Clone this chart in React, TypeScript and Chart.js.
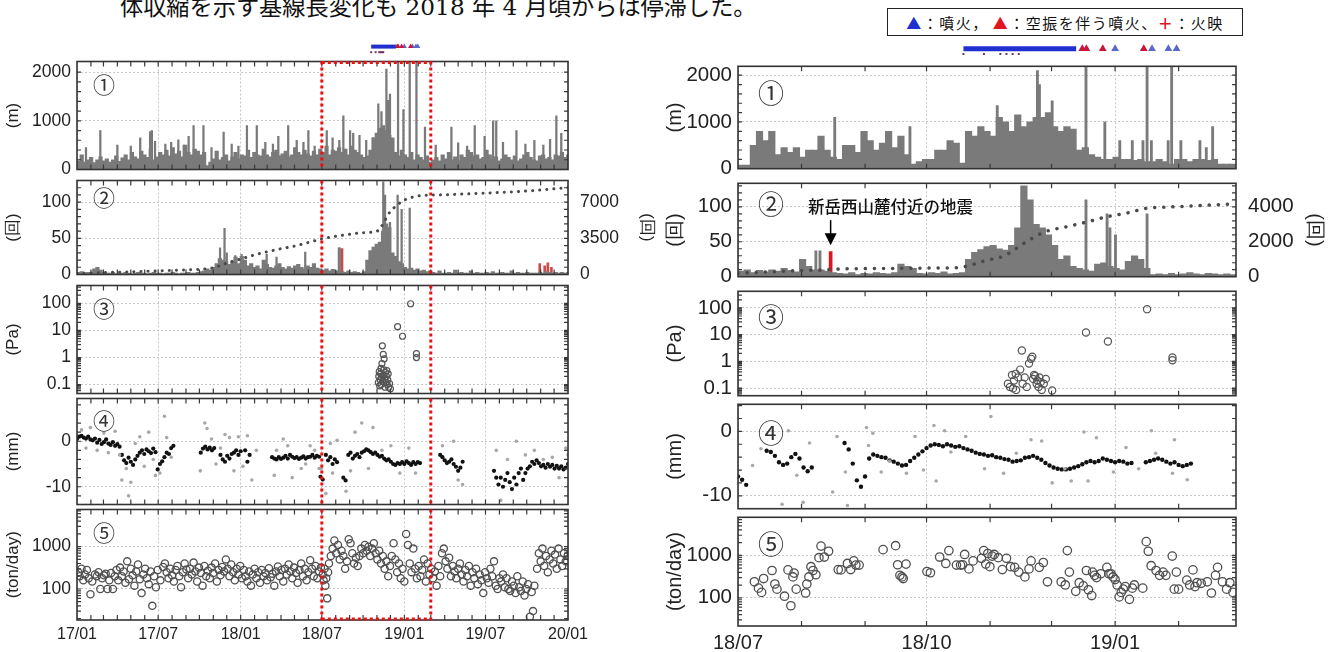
import React, { useEffect, useMemo, useRef } from 'react';
import { Chart, registerables } from 'chart.js';

Chart.register(...registerables);
Chart.defaults.font.family = '"Liberation Sans", Arial, sans-serif';
Chart.defaults.color = '#222';

// ================= DATA =================
const leftStart = '2017-01-01';
const leftEnd = '2020-01-01';
const rightStart = '2018-07-01';
const rightEnd = '2019-03-01';
const xLabelsLeft = ['17/01', '17/07', '18/01', '18/07', '19/01', '19/07', '20/01'];
const xLabelsRight = ['18/07', '18/10', '19/01'];

// y tick values
const ticksHeight = [0, 1000, 2000];
const ticksQuake = [0, 50, 100];
const ticksCumLeft = [0, 3500, 7000];
const ticksCumRight = [0, 2000, 4000];
const ticksPa = [0.1, 1, 10, 100];
const ticksMm = [-10, 0];
const ticksSo2 = [100, 1000];

// ① plume height (m). Left: weekly bins from 2017-01-01; spikes [day, m]
const plumeWeeklyLeft = [
  180, 300, 150, 200, 250, 140, 200, 260, 180, 220,
  150, 200, 280, 170, 240, 300, 200, 350, 260, 220,
  380, 300, 250, 420, 200, 260, 350, 300, 400, 280,
  450, 320, 380, 260, 500, 350, 300, 420, 380, 300,
  350, 80, 150, 220, 380, 200, 250, 300, 180, 260,
  350, 220, 300, 280, 400, 250, 350, 300, 280, 420,
  300, 260, 350, 400, 280, 320, 380, 260, 300, 450,
  350, 300, 400, 320, 280, 380, 300, 420, 350, 480,
  300, 400, 380, 450, 350, 420, 300, 480, 400, 350,
  300, 250, 280, 400, 650, 750, 850, 900, 800, 700,
  650, 350, 280, 400, 300, 250, 350, 200, 300, 250,
  200, 280, 150, 200, 250, 180, 300, 220, 350, 200,
  260, 180, 300, 250, 400, 350, 280, 300, 220, 250,
  400, 300, 200, 260, 180, 220, 300, 250, 200, 280,
  180, 220, 300, 350, 250, 200, 180, 280, 300, 220,
  250, 200, 300, 280, 350, 250, 300,
];
const plumeSpikesLeft = [
  [20, 450], [52, 800], [90, 500], [120, 480], [141, 650], [163, 780], [167, 800], [174, 580],
  [197, 520], [210, 560], [226, 610], [238, 500], [249, 680], [260, 900], [282, 900], [300, 450],
  [327, 770], [345, 520], [360, 480], [379, 900], [401, 900], [420, 560], [437, 520], [449, 680],
  [471, 900], [490, 600], [505, 560], [516, 800], [530, 480], [557, 800], [570, 650], [585, 600],
  [594, 1100], [609, 800], [616, 740], [630, 700], [645, 600], [660, 650], [672, 1350], [679, 1190],
  [690, 2060], [694, 1420], [698, 1550], [716, 2500], [728, 1230], [742, 2500], [757, 2500],
  [776, 870], [800, 500], [835, 870], [850, 550], [870, 480], [887, 900], [909, 680], [928, 1000],
  [935, 1000], [950, 560], [980, 800], [1000, 520], [1020, 600], [1040, 500], [1055, 620],
  [1069, 1100], [1080, 740],
];
// Right: 3-day bins from 2018-07-01; spikes [day, m]
const plumeBins3dRight = [
  80, 80, 500, 800, 600, 800, 300, 450, 350, 450,
  250, 400, 400, 700, 400, 250, 200, 500, 500, 350,
  800, 600, 400, 550, 800, 450, 700, 300, 100, 150,
  200, 200, 400, 400, 600, 550, 120, 800, 700, 900,
  800, 700, 1100, 1000, 800, 1150, 900, 1000, 1100, 1100,
  1200, 900, 800, 900, 850, 400, 450, 300, 250, 200,
  200, 250, 200, 200, 180, 200, 150, 150, 200, 150,
  100, 200, 200, 150, 200, 200, 180, 200, 100, 100, 100,
];
const plumeSpikesRight = [
  [47.2, 1100], [83.9, 900], [126.5, 1350], [146.1, 2100], [147.1, 1800], [153.3, 1450],
  [169.8, 2500], [179, 1000], [186.3, 600], [192.4, 600], [197.6, 600], [199.6, 2500],
  [201.7, 600], [209.9, 600], [211.6, 2500], [216.1, 600], [225.4, 600], [228.5, 450], [231.6, 900],
];

// ② volcanic earthquakes (count/day) and cumulative count
const quakeWeeklyLeft = [
  3, 4, 2, 3, 2, 8, 10, 6,
  3, 2, 2, 3, 1, 2, 2, 3, 2, 1, 2, 3, 2, 2, 1, 2, 3, 2, 2, 1, 2, 2, 3, 2, 1, 2, 2, 3, 2, 2, 3, 4,
  5, 8, 6, 10, 15, 22, 20, 18, 14, 18, 24, 15, 25, 20, 12, 15,
  10, 12, 8, 20, 14, 10, 9, 12, 15, 10, 8, 11, 9, 12, 14, 10, 8, 12, 10, 15, 9, 8,
  6, 8, 5, 7, 5, 4, 4, 3, 5, 3, 4, 3, 2, 4,
  20, 33, 38, 42, 45, 60, 70, 65, 30, 25, 18, 15, 10, 8, 9, 6, 8, 5, 6, 4, 5,
  3, 2, 5, 2, 2, 3, 2, 6, 2, 3, 2, 2, 5, 2, 3, 2, 2, 3, 2, 4, 2, 2, 3, 2, 2, 5, 2, 3, 2, 2, 3, 2,
  2, 2, 3, 2, 4, 3, 2, 3, 2, 3, 2, 3,
];
const quakeSpikesLeft = [
  [319, 37], [329, 64], [334, 30], [353, 26], [367, 28], [423, 28], [445, 24], [509, 31],
  [584, 37], [586, 37], [683, 128], [687, 110], [698, 72], [715, 110], [724, 90], [742, 92],
];
const quakeRedLeft = [[591, 36], [1032, 15], [1043, 12], [1050, 16], [1058, 10]];
const quakeCumMonthlyLeft = [
  100, 140, 180, 220, 260, 300, 350, 400, 440, 500, 650, 1100, 1500, 1900, 2200, 2500, 2750, 3100,
  3450, 3700, 3900, 4050, 4200, 6100, 7200, 7600, 7680, 7720, 7770, 7820, 7880, 7940, 8000, 8080,
  8180, 8300, 8420,
];
const quakeBins3dRight = [
  8, 10, 6, 9, 7, 10, 8, 12, 9, 7,
  25, 15, 10, 10, 8, 6, 5, 4, 6, 3,
  5, 4, 6, 5, 4, 6, 18, 15, 12, 5,
  4, 6, 5, 7, 4, 5, 6, 25, 35, 39,
  43, 45, 40, 38, 45, 70, 130, 110, 75, 70,
  60, 45, 25, 30, 15, 12, 10, 8, 18, 20,
  15, 12, 10, 22, 30, 25, 12, 3, 4, 3,
  5, 3, 4, 6, 4, 3, 5, 4, 3, 4, 3,
];
const quakeSpikesRight = [[38, 37], [40, 37], [169.8, 110], [180.1, 90], [181.5, 70], [184.2, 60], [199.6, 90]];
const quakeRedRight = [[45.2, 36]];
const quakeCum10dRight = [
  200, 250, 300, 350, 380, 440, 460, 470, 480, 490, 500, 560, 900, 1200, 1950, 2580, 2850, 3130,
  3430, 3650, 3930, 3990, 4040, 4100, 4160,
];

// ③ infrasound amplitude (Pa) [day, Pa]
const infraLeft = [
  [672, 0.12], [673, 0.2], [674, 0.3], [675, 0.09], [676, 0.15], [677, 0.25], [678, 0.4], [678, 0.1],
  [679, 0.18], [680, 0.6], [681, 2.7], [682, 0.13], [683, 1.3], [683, 0.22], [684, 0.35], [685, 0.9],
  [686, 0.16], [687, 0.08], [688, 0.28], [689, 0.12], [690, 0.2], [691, 0.33], [692, 0.1], [693, 0.15],
  [694, 0.25], [695, 0.08], [697, 0.11], [699, 0.07], [715, 13.8], [726, 6.1], [744, 97], [757, 1.4], [757, 1.0],
];
const infraRight = [
  [131.7, 0.145], [132.7, 0.11], [133.7, 0.31], [134.2, 0.097], [134.7, 0.19], [135.7, 0.085], [135.5, 0.34],
  [136.7, 0.25], [137.7, 0.49], [138.5, 2.55], [138.9, 0.145], [139.9, 0.25], [140.9, 0.11], [142, 0.83],
  [143, 1.24], [143.6, 1.5], [144, 0.22], [144.5, 0.31], [145, 0.28], [145.7, 0.145], [146.1, 0.19],
  [146.7, 0.11], [147.1, 0.25], [147.7, 0.166], [148.2, 0.085], [149.2, 0.145], [150.2, 0.22], [153.3, 0.081],
  [169.8, 12], [180.5, 5.5], [199.6, 90], [212, 1.4], [212, 1.1],
];

// ④ GNSS baseline length change (mm): segments of regularly spaced daily solutions
const gnssStepLeft = 5;
const gnssSegmentsLeft = [
  { start: 0, mm: [0.5, 1.0, 1.2, 0.8, 0.6, 1.0, 0.4, 0.2, 0.6, -0.3, 0.3, -0.6, -0.2, 0.4, -0.5, -0.8, -0.2, -1.0, -0.6, -1.2] },
  { start: 100, mm: [-3.0, -4.2, -4.8, -3.6, -4.5, -5.2, -4.0, -3.2, -2.5] },
  { start: 145, mm: [-2.0, -2.8, -1.8, -2.2, -2.6, -1.6, -2.4] },
  { start: 180, mm: [-6.2, -5.0, -4.4, -3.5, -2.5, -2.8, -1.5, -1.0] },
  { start: 276, mm: [-2.5, -1.6, -1.2, -1.8, -1.4, -2.0, -1.5] },
  { start: 320, mm: [-3.0, -4.0, -4.5, -3.2, -3.8, -2.8] },
  { start: 350, mm: [-2.5, -2.0, -3.0, -2.2] },
  { start: 375, mm: [-2.0, -4.5, -3.0] },
  { start: 435, mm: [-3.5, -3.8, -4.0, -3.5, -3.9, -3.6, -3.2, -3.8, -3.0, -3.4, -3.7, -3.5, -3.9, -3.6, -3.3, -3.8, -3.5, -3.4, -3.0, -3.6, -3.2, -3.4] },
  { start: 543, mm: [-7.8, -8.4] },
  { start: 555, mm: [-3.0, -4.2, -3.5, -5.0, -4.0, -4.6] },
  { start: 594, mm: [-8.0, -8.6] },
  { start: 605, mm: [-3.0, -2.5, -3.8, -3.2, -2.8, -3.5, -2.5, -2.2, -1.8, -2.0, -2.4, -2.8, -2.5, -3.0, -3.4, -3.2, -3.8, -4.2, -4.0, -4.5, -5.0, -5.2, -4.8, -5.0, -4.6, -5.0, -4.4, -4.8, -5.2, -4.6, -5.0, -4.6, -4.8] },
  { start: 810, mm: [-3.0, -3.5, -4.2, -4.8, -4.5, -4.0, -5.0, -5.6, -6.5, -5.8, -4.5] },
  { start: 930, mm: [-6.5, -8.0, -9.5, -8.0, -10.0, -8.5, -7.0, -9.0, -10.5, -8.0, -9.5, -7.0, -6.0, -8.5, -7.0, -6.0, -5.5, -4.5, -5.0, -4.2, -4.8, -5.5, -5.2, -5.8, -5.0, -5.6, -5.2, -6.0, -5.4, -6.0, -5.5, -6.2, -5.8, -5.0] },
];
const gnssScatterLeft = [
  [10, 2.5], [20, -1.5], [30, 3.0], [45, -2.0], [60, 1.8], [70, -2.5], [85, 2.2], [95, -3.0], [100, -8.5],
  [110, -6.0], [115, -12.0], [120, -9.0], [130, -0.5], [140, 1.0], [150, -5.5], [160, 2.0], [170, -4.0],
  [175, -7.5], [185, -7.0], [195, 5.5], [200, 0.8], [210, -3.5], [275, -6.5], [285, 4.0], [290, 2.8],
  [300, 0.5], [310, -5.0], [320, -1.5], [330, 1.5], [340, 0.8], [350, -6.5], [360, 1.0], [370, -5.5],
  [380, 1.2], [390, -8.5], [400, -2.0], [440, -7.5], [445, -2.0], [460, 0.5], [470, -1.0], [480, -8.0],
  [500, -6.0], [510, -5.0], [520, -1.0], [530, -2.0], [540, -6.0], [545, -6.0], [555, -11.5], [565, -0.5],
  [570, -7.0], [580, 0.2], [600, -11.0], [610, -6.5], [620, 2.0], [635, 4.0], [650, -6.0], [660, 3.0],
  [680, -2.0], [700, -1.0], [720, -7.0], [740, -1.5], [755, -7.0], [815, -1.0], [840, 0.0], [850, -8.5],
  [860, -9.5], [935, -2.0], [945, -13.0], [960, -4.0], [980, 0.0], [1000, -3.0], [1020, -2.0], [1040, -4.0],
  [1060, -3.5], [1075, -8.0], [1090, -1.5], [1095, -3.0],
];
const gnssStepRight = 2;
const gnssSegmentsRight = [
  { start: 0, mm: [-7.0, -7.5, -8.3] },
  { start: 14, mm: [-3.0, -3.2, -3.8, -4.8, -5.2, -5.0, -4.0, -3.5, -4.2, -5.6, -6.2, -5.6] },
  { start: 52, mm: [-1.8, -2.8, -5.0, -7.6, -8.6, -7.0] },
  { start: 64, mm: [
    -4.2, -3.6, -3.8, -4.0, -4.1, -4.5, -4.7, -5.0, -5.3, -5.2,
    -4.6, -4.1, -3.6, -3.1, -2.6, -2.2, -2.0, -2.1, -2.3, -2.0,
    -2.2, -2.4, -2.3, -2.6, -2.8, -3.0, -3.3, -3.5, -3.6, -3.8,
    -3.7, -4.0, -4.1, -4.3, -4.4, -4.7, -4.6, -4.5, -4.1, -4.0,
    -3.8, -4.1, -4.4, -4.9, -5.3, -5.6, -5.8, -5.9, -5.9, -5.8,
    -5.6, -5.4, -5.1, -4.8, -4.6, -4.8, -4.6, -4.2, -4.4, -4.6,
    -4.8, -4.6, -4.7, -5.0, -4.9] },
  { start: 199, mm: [-4.8, -4.6, -4.4, -4.2, -4.4, -4.7, -5.0, -4.8, -5.2, -5.4, -5.2, -5.0] },
];
const gnssScatterRight = [
  [7.1, -5.3], [11.2, -2.7], [21.5, -11.3], [24.6, 0.1], [28.7, -6.8], [31.8, -11.0], [34.9, -1.8],
  [46.2, -9.4], [48.3, -0.8], [52.4, -6.3], [53.4, -11.5], [62.7, 0.6], [63.7, -2.2], [65.8, -0.3],
  [69.9, -6.3], [74, -4.6], [82.2, -6.5], [86.4, -0.8], [90.5, -6.0], [95.6, 0.9], [96.7, -7.7],
  [100.8, 0.1], [103.9, -3.2], [111.1, -0.8], [120.3, -5.8], [123.4, 2.3], [129.6, -6.5], [135.8, -3.4],
  [143, -1.3], [148.2, -1.5], [153.3, -8.0], [159.5, -5.8], [162.6, -7.7], [168.8, -0.1], [170.8, -7.7],
  [174.9, -1.0], [183.2, -6.3], [189.3, -2.5], [195.5, -5.8], [201.7, 0.1], [203.8, -3.4], [212, -6.5],
  [213, -1.3], [219.2, -7.5],
];

// ⑤ SO2 emission (ton/day) [day, t/d]
const so2Left = [
  [3, 250], [6, 200], [10, 300], [14, 160], [18, 220], [22, 280], [26, 180], [30, 75], [34, 150], [40, 220],
  [44, 200], [48, 250], [52, 100], [56, 180], [60, 210], [64, 230], [68, 100], [72, 160], [76, 240], [80, 100],
  [84, 200], [88, 280], [92, 160], [96, 320], [100, 200], [104, 260], [108, 140], [112, 450], [116, 170],
  [120, 300], [124, 210], [128, 120], [132, 260], [136, 380], [140, 170], [144, 80], [148, 220], [152, 300],
  [156, 180], [160, 130], [164, 260], [168, 40], [172, 200], [176, 110], [180, 280], [186, 160], [192, 330],
  [196, 400], [200, 250], [204, 180], [208, 300], [212, 210], [216, 150], [220, 280], [224, 350], [228, 200],
  [232, 110], [236, 250], [240, 400], [244, 290], [248, 180], [252, 300], [256, 220], [260, 420], [264, 260],
  [268, 150], [272, 320], [276, 240], [280, 120], [284, 350], [288, 200], [292, 270], [296, 180], [300, 320],
  [304, 240], [308, 400], [312, 150], [316, 280], [320, 210], [324, 330], [328, 260], [332, 500], [336, 300],
  [340, 200], [344, 380], [348, 250], [352, 160], [356, 300], [360, 220], [364, 350], [368, 180], [372, 280],
  [376, 200], [380, 150], [384, 260], [388, 120], [392, 220], [396, 300], [400, 180], [404, 250], [408, 140],
  [412, 280], [416, 200], [420, 240], [424, 160], [428, 310], [432, 190], [436, 230], [440, 120], [444, 260],
  [448, 340], [452, 200], [456, 280], [460, 150], [464, 300], [468, 220], [472, 380], [476, 260], [480, 180],
  [484, 320], [488, 240], [492, 140], [496, 280], [500, 400], [504, 200], [508, 300], [512, 160], [516, 250],
  [520, 480], [524, 300], [528, 200], [532, 350], [536, 180], [540, 260], [544, 320], [548, 220], [550, 160],
  [552, 300], [554, 120], [556, 180], [558, 60], [560, 250], [562, 400], [566, 600], [570, 900], [574, 1400],
  [578, 700], [582, 1100], [586, 500], [590, 800], [594, 600], [598, 300], [602, 450], [606, 1500], [610, 1200],
  [614, 700], [618, 400], [622, 550], [626, 350], [630, 600], [634, 900], [638, 700], [642, 1100], [646, 800],
  [650, 1000], [654, 600], [658, 900], [662, 1200], [666, 700], [670, 500], [674, 800], [678, 400], [682, 600],
  [686, 300], [690, 450], [694, 200], [698, 350], [702, 600], [706, 1200], [710, 500], [714, 250], [718, 400],
  [722, 180], [726, 300], [730, 150], [734, 2000], [738, 1100], [742, 400], [746, 250], [750, 900], [754, 300],
  [758, 180], [762, 350], [766, 200], [770, 280], [774, 500], [778, 150], [782, 400], [786, 220], [790, 300],
  [794, 180], [798, 260], [802, 120], [806, 350], [810, 200], [814, 700], [818, 900], [822, 450], [826, 300],
  [830, 550], [834, 200], [838, 350], [842, 260], [846, 180], [850, 300], [854, 400], [858, 220], [862, 150],
  [866, 280], [870, 200], [874, 350], [878, 120], [882, 250], [886, 180], [890, 300], [894, 130], [898, 220],
  [902, 160], [906, 80], [910, 250], [914, 180], [918, 140], [922, 300], [926, 200], [930, 450], [934, 120],
  [938, 100], [942, 180], [946, 150], [950, 220], [954, 110], [958, 180], [962, 100], [966, 90], [970, 150],
  [974, 120], [978, 80], [982, 200], [986, 110], [990, 90], [994, 150], [998, 70], [1002, 100], [1006, 130],
  [1010, 22], [1014, 85], [1017, 30], [1020, 120], [1026, 300], [1030, 700], [1034, 450], [1038, 900],
  [1042, 350], [1046, 600], [1050, 250], [1054, 500], [1058, 800], [1062, 400], [1066, 650], [1070, 300],
  [1074, 900], [1078, 500], [1082, 350], [1086, 700], [1090, 450], [1094, 600],
];
const so2Right = [
  [8, 239], [10, 169], [11.5, 134], [12.5, 285], [16.6, 441], [18, 212], [19, 160], [22.7, 109], [24.4, 456],
  [25.8, 65], [26.8, 311], [27.4, 383], [28.4, 160], [33, 130], [33.6, 212], [34.6, 311], [35.6, 543],
  [36.6, 441], [38, 351], [39.5, 885], [40.5, 1660], [42.1, 917], [44.2, 1254], [48.9, 464], [50.3, 456],
  [53.4, 647], [55, 464], [56.5, 743], [57.5, 593], [59.1, 593], [70.8, 1370], [76.9, 1700], [77.9, 603],
  [79, 339], [80, 311], [80.6, 285], [82, 625], [92.2, 418], [93.9, 390], [98.4, 917], [101.4, 647],
  [102.9, 1300], [106.6, 593], [108.6, 593], [109.6, 603], [110.6, 1054], [112.7, 481], [114.7, 743],
  [118.8, 855], [119.9, 1300], [120.9, 625], [121.9, 1110], [122.9, 543], [124, 966], [125, 1054], [127, 885],
  [129, 464], [131, 855], [133, 543], [135, 524], [137, 404], [140, 311], [142, 481], [143, 743], [147, 524],
  [149, 681], [151, 239], [157.7, 239], [159.7, 201], [160.7, 1300], [161.7, 404], [164.8, 142], [166.5, 227],
  [168.5, 191], [170, 441], [171, 155], [172.6, 113], [173, 404], [174, 339], [175, 300], [177, 370],
  [180, 524], [181, 370], [182, 370], [183, 311], [184, 270], [185, 201], [186, 105], [187, 134], [188, 160],
  [189, 184], [191, 92], [192.4, 169], [193.4, 201], [197.5, 169], [199.2, 2118], [200.2, 1254], [201.6, 572],
  [204, 441], [205.7, 339], [207.4, 404], [208.8, 339], [211.9, 966], [212.9, 160], [213.9, 404], [215, 160],
  [219, 261], [220.4, 201], [222, 456], [223, 184], [224, 227], [226, 220], [229, 239], [231, 130], [233, 339],
  [234, 524], [236.4, 239], [238.4, 160], [240, 227], [241.5, 134],
];

// eruption markers (days since 2018-07-01)
const eruptionSpan = [110, 165];
const redEruptionDays = [168, 170, 178, 198];
const blueEruptionDays = [184, 202, 210, 214];
const glowDays = [110, 120, 128, 131, 134, 137];

// ================= HELPERS =================
const DAY_MS = 86400000;
const dayNum = (iso: string) => Date.parse(iso + 'T00:00:00Z') / DAY_MS;
const labelDay = (lab: string) => Date.UTC(2000 + Number(lab.slice(0, 2)), Number(lab.slice(3, 5)) - 1, 1) / DAY_MS;
function monthStarts(startIso: string, endIso: string) {
  const s = dayNum(startIso), e = dayNum(endIso);
  const d0 = new Date(startIso + 'T00:00:00Z');
  let y = d0.getUTCFullYear(), m = d0.getUTCMonth();
  const out: number[] = [];
  for (;;) {
    const d = Date.UTC(y, m, 1) / DAY_MS;
    if (d > e) break;
    out.push(d - s);
    m++; if (m === 12) { m = 0; y++; }
  }
  return out;
}
function linMinor(a: number, b: number, step: number) { const o: number[] = []; for (let v = a; v <= b + 1e-9; v += step) o.push(+v.toFixed(6)); return o; }
function logMinor(lo: number, hi: number) { const o: number[] = []; for (let d = lo; d <= hi; d *= 10) for (let k = 1; k < 10; k++) o.push(+(d * k).toPrecision(3)); return o; }
const pairs = (arr: number[][]) => arr.map(([x, y]) => ({ x, y }));
const segPoints = (segs: { start: number; mm: number[] }[], step: number) => {
  const out: { x: number; y: number }[] = [];
  segs.forEach((s) => s.mm.forEach((v, i) => out.push({ x: s.start + i * step, y: v })));
  return out;
};

const BAR = '#7a7a7a';
const GRID = '#c8c8c8';
const BLUE = '#1f2fd0';
const RED = '#e0141e';

// ================= PLUGINS =================
const framePlugin = {
  id: 'frame',
  afterDatasetsDraw(chart: any, _a: any, o: any) {
    const { ctx, chartArea: a } = chart;
    const xs = chart.scales.x, ys = chart.scales.y;
    ctx.save();
    ctx.strokeStyle = '#3a3a3a';
    ctx.lineWidth = 1.2;
    ctx.beginPath();
    const xm: number[] = o.xMinor || [];
    for (let i = 0; i < xm.length; i++) {
      const p = xs.getPixelForValue(xm[i]);
      if (p <= a.left + 1 || p >= a.right - 1) continue;
      ctx.moveTo(p, a.top); ctx.lineTo(p, a.top + 5);
      ctx.moveTo(p, a.bottom); ctx.lineTo(p, a.bottom - 5);
    }
    const ym: number[] = o.yMinor || [];
    for (let i = 0; i < ym.length; i++) {
      const p = ys.getPixelForValue(ym[i]);
      if (p <= a.top + 1 || p >= a.bottom - 1) continue;
      ctx.moveTo(a.left, p); ctx.lineTo(a.left + 4, p);
      ctx.moveTo(a.right, p); ctx.lineTo(a.right - 4, p);
    }
    ctx.stroke();
    ctx.lineWidth = 1.6;
    ctx.strokeStyle = '#333';
    ctx.strokeRect(a.left, a.top, a.right - a.left, a.bottom - a.top);
    ctx.restore();
  },
};
const redboxPlugin = {
  id: 'redbox',
  afterDatasetsDraw(chart: any, _a: any, o: any) {
    if (!o || !o.on) return;
    const { ctx, chartArea: a } = chart;
    const xs = chart.scales.x;
    const x0 = xs.getPixelForValue(o.x0), x1 = xs.getPixelForValue(o.x1);
    ctx.save();
    ctx.strokeStyle = '#ee1010';
    ctx.lineWidth = 3;
    ctx.setLineDash([3, 3]);
    ctx.beginPath();
    ctx.moveTo(x0, a.top); ctx.lineTo(x0, a.bottom);
    ctx.moveTo(x1, a.top); ctx.lineTo(x1, a.bottom);
    if (o.top) { ctx.moveTo(x0, a.top + 1); ctx.lineTo(x1, a.top + 1); }
    if (o.bottom) { ctx.moveTo(x0, a.bottom - 1); ctx.lineTo(x1, a.bottom - 1); }
    ctx.stroke();
    ctx.restore();
  },
};
const arrowPlugin = {
  id: 'arrow',
  afterDatasetsDraw(chart: any, _a: any, o: any) {
    if (!o || !o.on) return;
    const { ctx } = chart;
    const x = chart.scales.x.getPixelForValue(o.x);
    const yA = chart.scales.y.getPixelForValue(o.y0);
    const yB = chart.scales.y.getPixelForValue(o.y1);
    ctx.save();
    ctx.strokeStyle = '#000';
    ctx.fillStyle = '#000';
    ctx.lineWidth = 1.5;
    ctx.beginPath(); ctx.moveTo(x, yA); ctx.lineTo(x, yB - 10); ctx.stroke();
    ctx.beginPath(); ctx.moveTo(x - 6, yB - 12); ctx.lineTo(x + 6, yB - 12); ctx.lineTo(x, yB); ctx.closePath(); ctx.fill();
    ctx.restore();
  },
};

// ================= LAYOUT =================
const COL_L = {
  key: 'L', x0: 0, width: 660, lw: 77, rw: 92,
  edges: [59, 172, 283, 396, 507, 620],
  startIso: leftStart, endIso: leftEnd, labels: xLabelsLeft,
  tickFont: 17.5, xFont: 16, titleFont: 17,
  circleFont: 22, circleX: 104, circleY: [83, 196, 307, 419, 531],
  eventsTop: 37, triR: 3, spanW: 4,
  spikeW: 1.6, infraR: 3, so2R: 3.6, gnssR: 2.1,
};
const COL_R = {
  key: 'R', x0: 660, width: 670, lw: 78, rw: 94,
  edges: [62, 173, 287, 400, 513, 626],
  startIso: rightStart, endIso: rightEnd, labels: xLabelsRight,
  tickFont: 20.5, xFont: 20, titleFont: 20,
  circleFont: 26, circleX: 771, circleY: [92, 203, 316, 432, 543],
  eventsTop: 39, triR: 4.5, spanW: 5,
  spikeW: 2.2, infraR: 3.6, so2R: 4.2, gnssR: 2.2,
};
type Col = typeof COL_L;
const span = (c: Col) => dayNum(c.endIso) - dayNum(c.startIso);
const binW = (c: Col, days: number) => ((c.width - c.lw - c.rw) / span(c)) * days + 0.4;

function xScale(col: Col, showLabels: boolean) {
  const s = dayNum(col.startIso);
  const tickDays = col.labels.map((l) => labelDay(l) - s);
  return {
    type: 'linear', min: 0, max: span(col), offset: false, bounds: 'data',
    afterBuildTicks: (sc: any) => { sc.ticks = tickDays.map((v) => ({ value: v })); },
    afterFit: (sc: any) => { sc.height = showLabels ? 32 : 0; },
    ticks: {
      display: showLabels, autoSkip: false, maxRotation: 0, minRotation: 0, padding: 5,
      font: { size: col.xFont }, color: '#222',
      callback: (v: number) => { const i = tickDays.indexOf(v); return i >= 0 ? col.labels[i] : ''; },
    },
    grid: { color: GRID, lineWidth: 1, drawTicks: false, offset: false },
    border: { display: false, dash: [2, 2] },
  };
}
function yScale(col: Col, d: any, pos: 'left' | 'right') {
  return {
    type: d.log ? 'logarithmic' : 'linear', position: pos, min: d.min, max: d.max, bounds: 'data', stacked: false,
    afterBuildTicks: (sc: any) => { sc.ticks = d.ticks.map((v: number) => ({ value: v })); },
    afterFit: (sc: any) => { sc.width = pos === 'left' ? col.lw : col.rw; },
    ticks: { autoSkip: false, padding: pos === 'left' ? 6 : 12, font: { size: col.tickFont }, color: '#222', callback: (v: number) => String(v) },
    grid: { display: pos === 'left', color: GRID, lineWidth: 1, drawTicks: false },
    border: { display: false, dash: [2, 2] },
    title: { display: true, text: d.title, font: { size: col.titleFont }, color: '#222', padding: { top: 3, bottom: 0 } },
  };
}

function panel(col: Col, k: number, datasets: () => any[], yDef: any, y2Def: any, extra: any) {
  const top = col.edges[k], bottom = col.edges[k + 1];
  const last = k === 4;
  const padT = 14, padB = last ? 0 : 14, xh = last ? 32 : 0;
  const height = bottom - top + padT + padB + xh;
  const make = () => {
    const scales: any = { x: xScale(col, last), y: yScale(col, yDef, 'left') };
    if (y2Def) scales.y2 = yScale(col, y2Def, 'right');
    return {
      type: 'bar',
      data: { datasets: datasets() },
      options: {
        animation: false, responsive: false, maintainAspectRatio: false, devicePixelRatio: 1, events: [],
        layout: { padding: { top: padT, bottom: padB, left: 0, right: y2Def ? 0 : col.rw } },
        plugins: {
          legend: { display: false }, tooltip: { enabled: false },
          frame: { xMinor: monthStarts(col.startIso, col.endIso), yMinor: yDef.minor },
          redbox: extra.redbox || { on: false },
          arrow: extra.arrow || { on: false },
        },
        scales,
      },
      plugins: [framePlugin, redboxPlugin, arrowPlugin],
    };
  };
  return { left: col.x0, top: top - padT, width: col.width, height, make };
}

function eventsStrip(col: Col) {
  const off = dayNum(rightStart) - dayNum(col.startIso);
  const make = () => ({
    type: 'scatter',
    data: {
      datasets: [
        { type: 'line', data: [{ x: eruptionSpan[0] + off, y: 1.3 }, { x: eruptionSpan[1] + off, y: 1.3 }], borderColor: BLUE, borderWidth: col.spanW, pointRadius: 0, clip: false },
        { data: redEruptionDays.map((d) => ({ x: d + off, y: 1.3 })), pointStyle: 'triangle', pointRadius: col.triR, backgroundColor: '#c8153c', borderWidth: 0, clip: false },
        { data: blueEruptionDays.map((d) => ({ x: d + off, y: 1.3 })), pointStyle: 'triangle', pointRadius: col.triR, backgroundColor: '#5a68c8', borderWidth: 0, clip: false },
        { data: glowDays.map((d) => ({ x: d + off, y: 0.6 })), pointStyle: 'rect', pointRadius: 1.4, backgroundColor: '#6a3560', borderWidth: 0, clip: false },
      ],
    },
    options: {
      animation: false, responsive: false, maintainAspectRatio: false, devicePixelRatio: 1, events: [],
      layout: { padding: { left: col.lw, right: col.rw, top: 0, bottom: 0 } },
      plugins: { legend: { display: false }, tooltip: { enabled: false } },
      scales: { x: { type: 'linear', display: false, min: 0, max: span(col) }, y: { display: false, min: 0, max: 2 } },
    },
  });
  return { left: col.x0, top: col.eventsTop, width: col.width, height: 24, make };
}

function buildSpecs() {
  const specs: any[] = [];
  const redOff0 = dayNum(rightStart) - dayNum(leftStart);
  const redOff1 = dayNum(rightEnd) - dayNum(leftStart);
  const cumLeftX = monthStarts(leftStart, leftEnd);
  for (const col of [COL_L, COL_R]) {
    const isL = col.key === 'L';
    const rb = (top: boolean, bottom: boolean) => (isL ? { redbox: { on: true, x0: redOff0, x1: redOff1, top, bottom } } : {});
    specs.push(eventsStrip(col));
    // ① plume height
    specs.push(panel(col, 0, () => [
      {
        type: 'bar', stack: 's', clip: 0, backgroundColor: BAR,
        barThickness: isL ? binW(col, 7) : binW(col, 3),
        data: isL ? plumeWeeklyLeft.map((v, i) => ({ x: i * 7 + 3.5, y: v })) : plumeBins3dRight.map((v, i) => ({ x: i * 3 + 1.5, y: v })),
      },
      { type: 'bar', stack: 's', clip: 0, backgroundColor: BAR, barThickness: col.spikeW, data: pairs(isL ? plumeSpikesLeft : plumeSpikesRight) },
    ], { min: 0, max: isL ? 2217 : 2190, ticks: ticksHeight, title: '(m)', minor: linMinor(200, 2200, 200) }, null, rb(true, false)));
    // ② earthquakes
    specs.push(panel(col, 1, () => [
      {
        type: 'line', yAxisID: 'y2', clip: 0, borderColor: '#4a4a4a', borderWidth: isL ? 3 : 3.5,
        borderDash: [0.1, isL ? 7 : 9], borderCapStyle: 'round', pointRadius: 0, cubicInterpolationMode: 'monotone',
        data: isL ? quakeCumMonthlyLeft.map((v, i) => ({ x: cumLeftX[i], y: v })) : quakeCum10dRight.map((v, i) => ({ x: i * 10, y: v })),
      },
      {
        type: 'bar', stack: 's', clip: 0, backgroundColor: BAR,
        barThickness: isL ? binW(col, 7) : binW(col, 3),
        data: isL ? quakeWeeklyLeft.map((v, i) => ({ x: i * 7 + 3.5, y: v })) : quakeBins3dRight.map((v, i) => ({ x: i * 3 + 1.5, y: v })),
      },
      { type: 'bar', stack: 's', clip: 0, backgroundColor: BAR, barThickness: col.spikeW, data: pairs(isL ? quakeSpikesLeft : quakeSpikesRight) },
      { type: 'bar', stack: 's', clip: 0, backgroundColor: isL ? '#d04848' : RED, barThickness: isL ? 2 : 3, data: pairs(isL ? quakeRedLeft : quakeRedRight) },
    ],
    { min: 0, max: isL ? 130 : 133.7, ticks: ticksQuake, title: '(回)', minor: linMinor(10, 130, 10) },
    { min: 0, max: isL ? 9100 : 5348, ticks: isL ? ticksCumLeft : ticksCumRight, title: '(回)' },
    isL ? rb(false, false) : { arrow: { on: true, x: quakeRedRight[0][0], y0: 81, y1: 45 } }));
    // ③ infrasound
    specs.push(panel(col, 2, () => [
      {
        type: 'scatter', clip: 0, data: pairs(isL ? infraLeft : infraRight), pointRadius: col.infraR,
        borderColor: '#555', borderWidth: 1.2, backgroundColor: 'rgba(0,0,0,0)',
      },
    ], { log: true, min: isL ? 0.047 : 0.0516, max: isL ? 457 : 420, ticks: ticksPa, title: '(Pa)', minor: logMinor(0.01, 100) }, null, rb(false, false)));
    // ④ GNSS
    specs.push(panel(col, 3, () => [
      { type: 'scatter', clip: 0, data: pairs(isL ? gnssScatterLeft : gnssScatterRight), pointRadius: 1.8, backgroundColor: '#a8a8a8', borderWidth: 0 },
      { type: 'scatter', clip: 0, data: isL ? segPoints(gnssSegmentsLeft, gnssStepLeft) : segPoints(gnssSegmentsRight, gnssStepRight), pointRadius: col.gnssR, backgroundColor: '#111', borderWidth: 0 },
    ], { min: isL ? -13.9 : -12, max: isL ? 9.4 : 4.2, ticks: ticksMm, title: '(mm)', minor: linMinor(-14, 8, 2) }, null, rb(false, false)));
    // ⑤ SO2
    specs.push(panel(col, 4, () => [
      {
        type: 'scatter', clip: 0, data: pairs(isL ? so2Left : so2Right), pointRadius: col.so2R,
        borderColor: '#505050', borderWidth: 1.3, backgroundColor: 'rgba(0,0,0,0)',
      },
    ], { log: true, min: isL ? 18.5 : 21.6, max: isL ? 7550 : 7950, ticks: ticksSo2, title: '(ton/day)', minor: logMinor(10, 1000) }, null, rb(false, true)));
  }
  return specs;
}

function ChartCanvas({ spec }: { spec: any }) {
  const ref = useRef<HTMLCanvasElement>(null);
  useEffect(() => {
    const chart = new Chart(ref.current as HTMLCanvasElement, spec.make());
    return () => chart.destroy();
  }, [spec]);
  return (
    <canvas
      ref={ref}
      width={spec.width}
      height={spec.height}
      style={{ position: 'absolute', left: spec.left, top: spec.top, width: spec.width, height: spec.height }}
    />
  );
}

const circled = ['①', '②', '③', '④', '⑤'];

export default function App() {
  const specs = useMemo(() => buildSpecs(), []);
  const cjk = '"Noto Sans CJK JP", "Noto Sans", sans-serif';
  return (
    <div style={{ position: 'fixed', left: 0, top: 0, width: 1330, height: 652, background: '#fff', overflow: 'hidden' }}>
      <div style={{ position: 'absolute', left: 120, top: -7, fontFamily: '"DejaVu Serif", "Noto Sans CJK JP", serif', fontSize: 23.2, lineHeight: '27px', color: '#111', whiteSpace: 'nowrap' }}>
        体収縮を示す基線長変化も 2018 年 4 月頃からは停滞した。
      </div>
      <div style={{ position: 'absolute', left: 887, top: 8, width: 356, height: 28, border: '1.5px solid #222', boxSizing: 'border-box', display: 'flex', alignItems: 'center', justifyContent: 'center', fontFamily: cjk, fontSize: 15, letterSpacing: 1.5, color: '#111', whiteSpace: 'nowrap' }}>
        <span style={{ color: BLUE }}>▲</span><span>：噴火，</span>
        <span style={{ color: RED, marginLeft: 4 }}>▲</span><span>：空振を伴う噴火、</span>
        <span style={{ color: RED, fontWeight: 700 }}>＋</span><span>：火映</span>
      </div>
      {specs.map((s, i) => <ChartCanvas key={i} spec={s} />)}
      {[COL_L, COL_R].map((c) => c.circleY.map((cy, k) => (
        <div key={c.key + k} style={{ position: 'absolute', left: c.circleX, top: cy, transform: 'translate(-50%, -50%)', fontFamily: cjk, fontSize: c.circleFont, lineHeight: 1, color: '#333' }}>
          {circled[k]}
        </div>
      )))}
      <div style={{ position: 'absolute', left: 808, top: 196, fontFamily: cjk, fontSize: 16.5, fontWeight: 500, lineHeight: '20px', color: '#111', whiteSpace: 'nowrap' }}>
        新岳西山麓付近の地震
      </div>
    </div>
  );
}
